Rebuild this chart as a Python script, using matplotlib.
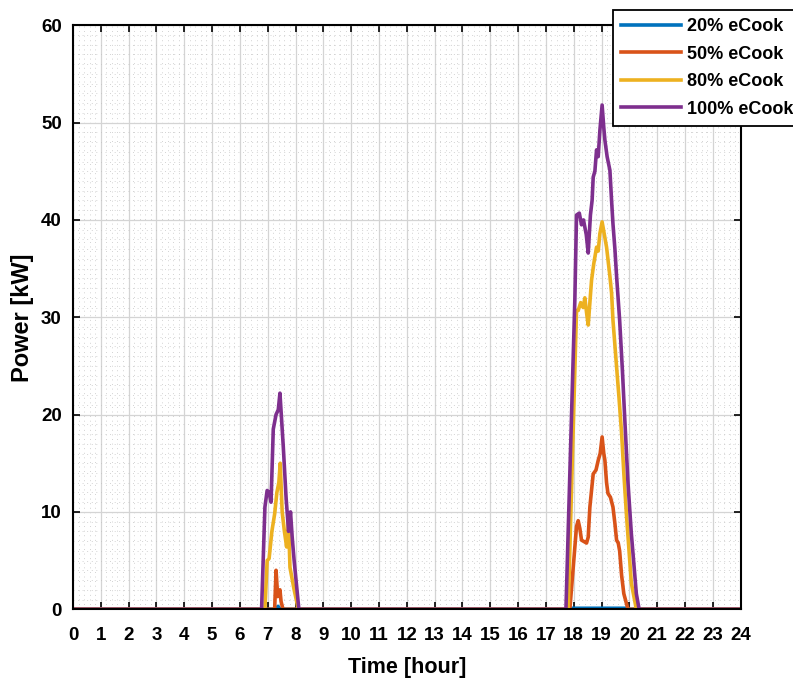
import matplotlib
matplotlib.use("Agg")
import matplotlib.pyplot as plt
from matplotlib.ticker import MultipleLocator

plt.rcParams['font.family'] = ['Liberation Sans', 'DejaVu Sans']

labels = ["20% eCook", "50% eCook", "80% eCook", "100% eCook"]
colors = ["#0072BD", "#D95319", "#EDB120", "#7E2F8E"]

# Time [hour] and Power [kW] points
t20 = [0, 7.30, 7.37, 7.45, 17.85, 17.90, 19.90, 19.95, 24]
p20 = [0, 0, 0.3, 0, 0, 0.1, 0.1, 0, 0]

t50 = [0, 7.25, 7.30, 7.36, 7.40, 7.44, 7.48, 7.55,
       17.86, 18.10, 18.16, 18.22, 18.28, 18.40, 18.46, 18.52, 18.58, 18.65, 18.70,
       18.80, 18.88, 18.95, 19.02, 19.08, 19.12, 19.18, 19.23,
       19.32, 19.41, 19.48, 19.54, 19.60, 19.65, 19.72, 19.80, 19.95, 24]
p50 = [0, 0, 4.0, 1.3, 1.5, 2.0, 0.8, 0,
       0, 8.5, 9.1, 8.3, 7.1, 6.9, 6.8, 7.4, 10.5, 12.5, 13.9,
       14.3, 15.3, 16.0, 17.7, 16.0, 15.3, 13.0, 11.9,
       11.5, 10.5, 8.8, 7.1, 6.8, 6.0, 3.5, 1.6, 0, 0]

t80 = [0, 6.90, 6.98, 7.05, 7.15, 7.25, 7.33, 7.40, 7.45, 7.52, 7.60, 7.68,
       7.75, 7.80, 7.95, 8.10,
       17.80, 18.10, 18.16, 18.25, 18.34, 18.40, 18.46, 18.52, 18.58, 18.64,
       18.72, 18.82, 18.88, 18.94, 19.02, 19.10,
       19.18, 19.30, 19.36, 19.41, 19.54, 19.62, 19.72, 19.80, 19.90, 20.07, 20.25, 24]
p80 = [0, 0, 5.0, 5.2, 8.0, 9.8, 12.0, 13.0, 15.0, 10.0, 8.0, 6.4,
       9.0, 4.3, 2.0, 0,
       0, 30.7, 30.7, 31.5, 31.0, 32.0, 30.5, 29.2, 31.5, 33.8,
       35.5, 37.2, 36.8, 38.6, 39.8, 38.5,
       37.2, 34.2, 32.5, 29.7, 24.9, 22.0, 18.1, 14.0, 9.5, 2.7, 0, 0]

t100 = [0, 6.78, 6.90, 6.98, 7.05, 7.12, 7.20, 7.30, 7.38, 7.44, 7.56, 7.66,
        7.75, 7.82, 7.88, 7.95, 8.12,
        17.72, 18.04, 18.10, 18.20, 18.28, 18.35, 18.45, 18.52, 18.60, 18.66,
        18.70, 18.76, 18.82, 18.88, 18.94, 19.02, 19.08, 19.12, 19.20, 19.30,
        19.36, 19.41, 19.48, 19.54, 19.65, 19.75, 19.83, 19.95, 20.07, 20.25,
        20.35, 24]
p100 = [0, 0, 10.5, 12.2, 12.0, 11.0, 18.5, 20.0, 20.5, 22.2, 16.7, 11.5,
        8.0, 10.0, 7.4, 5.0, 0,
        0, 31.8, 40.5, 40.7, 39.5, 40.0, 38.5, 36.6, 40.5, 42.0,
        44.4, 45.0, 47.2, 46.5, 49.2, 51.8, 49.5, 48.2, 46.5, 45.1,
        42.0, 39.6, 37.0, 34.2, 29.7, 24.5, 19.8, 13.0, 7.8, 1.6,
        0, 0]

fig = plt.figure(figsize=(7.93, 6.83), dpi=100)
ax = fig.add_axes([0.092, 0.108, 0.842, 0.855])

series = [(t20, p20), (t50, p50), (t80, p80), (t100, p100)]
for (t, p), c, lab in zip(series, colors, labels):
    ax.plot(t, p, color=c, lw=2.6, label=lab)

ax.set_xlim(0, 24)
ax.set_ylim(0, 60)
ax.xaxis.set_major_locator(MultipleLocator(1))
ax.xaxis.set_minor_locator(MultipleLocator(0.2))
ax.yaxis.set_major_locator(MultipleLocator(10))
ax.yaxis.set_minor_locator(MultipleLocator(1))

ax.grid(which='major', color='#d4d4d4', lw=0.9)
ax.grid(which='minor', color='#c4c4c4', lw=0.6, ls=(0, (1, 4.5)))
ax.set_axisbelow(True)

ax.tick_params(which='major', direction='in', length=5, width=1.2,
               top=True, right=True, labelsize=13.5)
ax.tick_params(axis='x', which='major', pad=13)
ax.tick_params(axis='y', which='major', pad=8)
ax.tick_params(which='minor', length=0)
for lbl in ax.get_xticklabels() + ax.get_yticklabels():
    lbl.set_fontweight('bold')
for s in ax.spines.values():
    s.set_linewidth(1.5)

ax.set_xlabel("Time [hour]", fontsize=15.5, fontweight='bold', labelpad=9)
ax.set_ylabel("Power [kW]", fontsize=17, fontweight='bold', labelpad=5)

leg = ax.legend(loc='upper left', bbox_to_anchor=(613 / 793, 1 - 10 / 683),
                bbox_transform=fig.transFigure, fancybox=False,
                edgecolor='black', framealpha=1,
                prop={'weight': 'bold', 'size': 13},
                handlelength=3.33, handletextpad=0.33, borderpad=0.45,
                labelspacing=0.58, borderaxespad=0)
leg.get_frame().set_linewidth(1.3)

fig.savefig("out.png", dpi=100)
